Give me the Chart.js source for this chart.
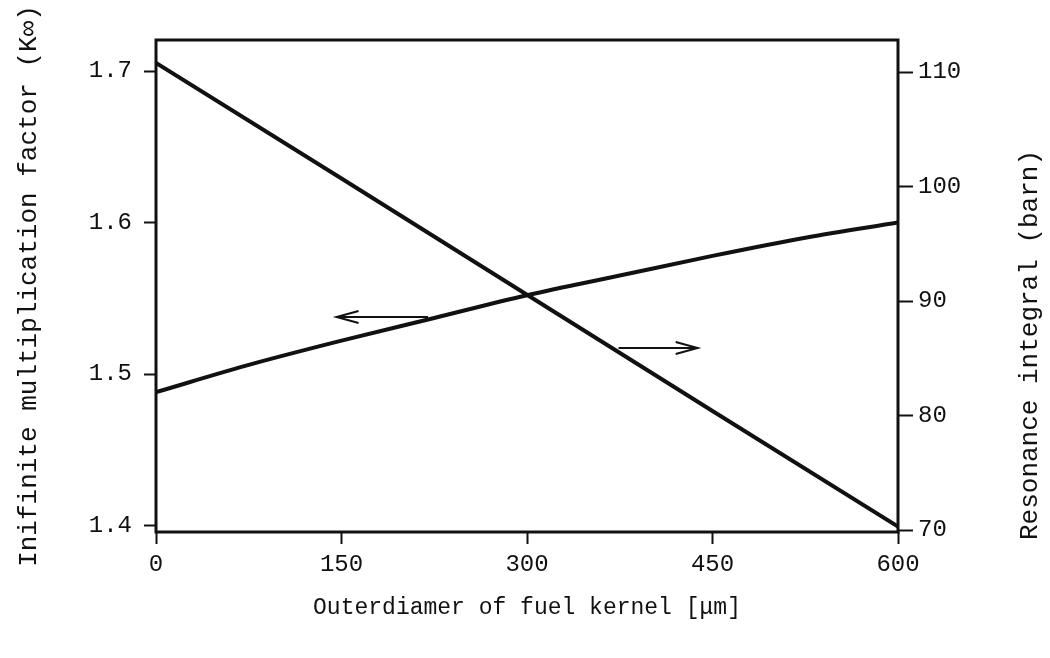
<!DOCTYPE html>
<html>
<head>
<meta charset="utf-8">
<script src="https://cdn.jsdelivr.net/npm/chart.js@4/dist/chart.umd.min.js"></script>
<style>
  html, body { margin: 0; padding: 0; background: #ffffff; }
</style>
</head>
<body>
<canvas id="graph" width="1050" height="658"></canvas>
<script>
// Data
var diameters = [0, 75, 150, 225, 300, 375, 450, 525, 600];          // um
var kInfValues = [1.488, 1.506, 1.522, 1.537, 1.552, 1.565, 1.578, 1.590, 1.600];
var riDiameters = [0, 150, 300, 450, 600];
var resonanceValues = [110.8, 100.7, 90.55, 80.4, 70.3];              // barn
var xTicks = [0, 150, 300, 450, 600];
var leftTicks = [1.4, 1.5, 1.6, 1.7];
var rightTicks = [70, 80, 90, 100, 110];
// arrows pointing at the axis each curve belongs to: [xFrom, xTo, kValue]
var leftArrow = [220, 146, 1.5376];
var rightArrow = [374, 438, 1.5172];

var fontName = "'Liberation Mono', 'DejaVu Sans Mono', monospace";
var ink = '#111111';

function toPoints(xs, ys) {
  var pts = [];
  for (var i = 0; i < xs.length; i++) {
    pts.push({x: xs[i], y: ys[i]});
  }
  return pts;
}

function fixedTicks(list) {
  return function (axis) {
    axis.ticks = list.map(function (v) { return {value: v}; });
  };
}

function drawArrow(ctx, chart, arr) {
  var xs = chart.scales.x;
  var ys = chart.scales.yK;
  var x1 = xs.getPixelForValue(arr[0]);
  var x2 = xs.getPixelForValue(arr[1]);
  var y = ys.getPixelForValue(arr[2]);
  var dir = x2 > x1 ? 1 : -1;
  ctx.beginPath();
  ctx.moveTo(x1, y);
  ctx.lineTo(x2, y);
  ctx.moveTo(x2 - dir * 22, y - 6);
  ctx.lineTo(x2, y);
  ctx.lineTo(x2 - dir * 22, y + 6);
  ctx.stroke();
}

var figurePlugin = {
  id: 'figureBits',
  afterDatasetsDraw: function (chart) {
    var ctx = chart.ctx;
    var a = chart.chartArea;
    ctx.save();
    ctx.strokeStyle = ink;
    ctx.lineWidth = 3;
    ctx.strokeRect(a.left, a.top, a.right - a.left, a.bottom - a.top);

    ctx.lineWidth = 2;
    drawArrow(ctx, chart, leftArrow);
    drawArrow(ctx, chart, rightArrow);

    // right title reads bottom to top, like the left one
    ctx.translate(1030, 345);
    ctx.rotate(-Math.PI / 2);
    ctx.fillStyle = ink;
    ctx.font = '26px ' + fontName;
    ctx.textAlign = 'center';
    ctx.textBaseline = 'middle';
    ctx.fillText('Resonance integral (barn)', 0, 0);
    ctx.restore();
  }
};

var canvas = document.getElementById('graph');
var ctx = canvas.getContext('2d');

var chart = new Chart(ctx, {
  type: 'line',
  data: {
    datasets: [
      {
        label: 'K-infinity',
        data: toPoints(diameters, kInfValues),
        yAxisID: 'yK',
        borderColor: ink,
        borderWidth: 4,
        pointRadius: 0,
        cubicInterpolationMode: 'monotone',
        fill: false
      },
      {
        label: 'Resonance integral',
        data: toPoints(riDiameters, resonanceValues),
        yAxisID: 'yRI',
        borderColor: ink,
        borderWidth: 4,
        pointRadius: 0,
        tension: 0,
        fill: false
      }
    ]
  },
  options: {
    responsive: false,
    animation: false,
    layout: { padding: { top: 40, left: 0, right: 0, bottom: 0 } },
    plugins: {
      legend: { display: false },
      tooltip: { enabled: false }
    },
    scales: {
      x: {
        type: 'linear',
        min: 0,
        max: 600,
        afterBuildTicks: fixedTicks(xTicks),
        afterFit: function (s) { s.height = 126; },
        border: { display: false },
        grid: { drawOnChartArea: false, tickLength: 12, tickColor: ink, tickWidth: 2 },
        ticks: { color: ink, padding: 6, maxRotation: 0, font: { family: fontName, size: 24 } },
        title: {
          display: true,
          text: 'Outerdiamer of fuel kernel [\u03bcm]',
          color: ink,
          font: { family: fontName, size: 23 },
          padding: { top: 0, bottom: 36 }
        }
      },
      yK: {
        type: 'linear',
        position: 'left',
        min: 1.3957,
        max: 1.7205,
        afterBuildTicks: fixedTicks(leftTicks),
        afterFit: function (s) { s.width = 156; },
        border: { display: false },
        grid: { drawOnChartArea: false, tickLength: 12, tickColor: ink, tickWidth: 2 },
        ticks: {
          color: ink,
          padding: 12,
          font: { family: fontName, size: 24 },
          callback: function (v) { return v.toFixed(1); }
        },
        title: {
          display: true,
          text: 'Inifinite multiplication factor (K\u221e)',
          color: ink,
          font: { family: fontName, size: 26 },
          padding: { top: 14, bottom: 0 }
        }
      },
      yRI: {
        type: 'linear',
        position: 'right',
        min: 69.83,
        max: 112.8,
        afterBuildTicks: fixedTicks(rightTicks),
        afterFit: function (s) { s.width = 152; },
        border: { display: false },
        grid: { drawOnChartArea: false, tickLength: 15, tickColor: ink, tickWidth: 2 },
        ticks: { color: ink, padding: 5, font: { family: fontName, size: 24 } }
      }
    }
  },
  plugins: [figurePlugin]
});
</script>
</body>
</html>
